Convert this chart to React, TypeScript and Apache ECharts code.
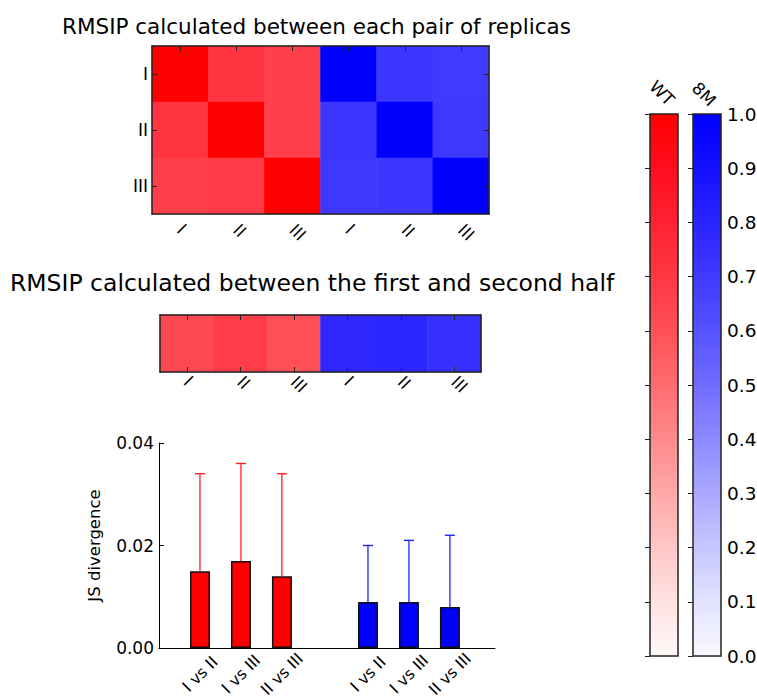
import React, { useEffect, useRef } from 'react';
import * as echarts from 'echarts';

// ---------- data ----------
const replicaLabels = ['I', 'II', 'III'];
const heatmapXLabels = ['I', 'II', 'III', 'I', 'II', 'III'];
const wtPairs = [
  [1.0, 0.72, 0.67],
  [0.72, 1.0, 0.67],
  [0.67, 0.69, 1.0],
];
const m8Pairs = [
  [1.0, 0.72, 0.7],
  [0.72, 1.0, 0.71],
  [0.71, 0.72, 1.0],
];
const wtHalves = [0.63, 0.68, 0.6];
const m8Halves = [0.78, 0.79, 0.74];

const barLabels = ['I vs II', 'I vs III', 'II vs III'];
const wtPositions = [1, 2, 3];
const m8Positions = [5.1, 6.1, 7.1];
const wtJS = [0.015, 0.017, 0.014];
const wtJSErr = [0.019, 0.019, 0.02];
const m8JS = [0.009, 0.009, 0.008];
const m8JSErr = [0.011, 0.012, 0.014];

const wtColorStops = ['#fff8f8', '#ffe2e2', '#ffc6c6', '#ffa8a8', '#ff8a8c', '#ff6c70', '#ff5058', '#ff3844', '#ff2232', '#ff0e1e', '#ff0000'];
const m8ColorStops = ['#f8f8ff', '#e2e2ff', '#c6c6ff', '#aaa8ff', '#8c8aff', '#706cff', '#5652ff', '#403aff', '#2a24ff', '#1410ff', '#0000ff'];

const FONT = 'DejaVu Sans';

export default function App() {
  const ref = useRef<HTMLDivElement>(null);

  useEffect(() => {
    if (!ref.current) return;
    const chart = echarts.init(ref.current, null, { renderer: 'svg' });

    const wtTop = wtPairs.flatMap((row, r) => row.map((v, c) => [c, r, v]));
    const m8Top = m8Pairs.flatMap((row, r) => row.map((v, c) => [c + 3, r, v]));
    const wtHalf = wtHalves.map((v, c) => [c, 0, v]);
    const m8Half = m8Halves.map((v, c) => [c + 3, 0, v]);

    const allPositions = [...wtPositions, ...m8Positions];
    const posLabel = (v: number) => {
      const i = allPositions.findIndex((p) => Math.abs(p - v) < 1e-6);
      return i < 0 ? '' : barLabels[i % 3];
    };

    const border = { show: true, lineStyle: { color: '#222', width: 1.5 } };
    const tickInside = { show: true, inside: true, alignWithLabel: true, length: 5, lineStyle: { color: '#222', width: 1 } };
    const labelStyle = { color: '#000', fontFamily: FONT };

    const errorRender = (color: string) => (params: any, api: any) => {
      const x = api.value(0);
      const v = api.value(1);
      const e = api.value(2);
      const base = api.coord([x, v]);
      const top = api.coord([x, v + e]);
      return {
        type: 'group',
        children: [
          { type: 'line', shape: { x1: base[0], y1: base[1], x2: top[0], y2: top[1] }, style: { stroke: color, lineWidth: 1.3 } },
          { type: 'line', shape: { x1: top[0] - 5, y1: top[1], x2: top[0] + 5, y2: top[1] }, style: { stroke: color, lineWidth: 1.4 } },
        ],
      };
    };

    const colorbarRender = (stops: string[]) => (params: any, api: any) => {
      const p0 = api.coord([0, 0]);
      const p1 = api.coord([1, 1]);
      return {
        type: 'rect',
        shape: { x: p0[0], y: p1[1], width: p1[0] - p0[0], height: p0[1] - p1[1] },
        style: {
          fill: new echarts.graphic.LinearGradient(0, 1, 0, 0, stops.map((c, i) => ({ offset: i / (stops.length - 1), color: c }))),
          stroke: '#222',
          lineWidth: 1.5,
        },
      };
    };

    const option: any = {
      animation: false,
      backgroundColor: '#fff',
      textStyle: { fontFamily: FONT },
      title: [
        {
          text: 'RMSIP calculated between each pair of replicas',
          left: 62, top: 15, padding: 0,
          textStyle: { fontSize: 21.5, fontWeight: 'normal', color: '#000', fontFamily: FONT },
        },
        {
          text: 'RMSIP calculated between the first and second half',
          left: 10, top: 271, padding: 0,
          textStyle: { fontSize: 23.5, fontWeight: 'normal', color: '#000', fontFamily: FONT },
        },
      ],
      visualMap: [
        { type: 'continuous', show: false, min: 0, max: 1, dimension: 2, seriesIndex: [0, 2], inRange: { color: wtColorStops } },
        { type: 'continuous', show: false, min: 0, max: 1, dimension: 2, seriesIndex: [1, 3], inRange: { color: m8ColorStops } },
      ],
      grid: [
        { left: 152, top: 46, width: 337, height: 168, outerBoundsMode: 'none' },
        { left: 160, top: 315, width: 321, height: 57, outerBoundsMode: 'none' },
        { left: 159, top: 443, width: 336, height: 205, outerBoundsMode: 'none' },
        { left: 650, top: 114, width: 28, height: 542, outerBoundsMode: 'none' },
        { left: 693, top: 114, width: 28, height: 542, outerBoundsMode: 'none' },
      ],
      xAxis: [
        {
          gridIndex: 0, type: 'category', data: heatmapXLabels, position: 'bottom', z: 10,
          axisLine: border, axisTick: { show: false },
          axisLabel: { ...labelStyle, fontSize: 17, rotate: -45, margin: 13, interval: 0 },
        },
        {
          gridIndex: 0, type: 'category', data: heatmapXLabels, position: 'top', z: 10,
          axisLine: border, axisTick: { ...tickInside, interval: 0 }, axisLabel: { show: false },
        },
        {
          gridIndex: 1, type: 'category', data: heatmapXLabels, position: 'bottom', z: 10,
          axisLine: border, axisTick: { ...tickInside, interval: 0 },
          axisLabel: { ...labelStyle, fontSize: 17, rotate: -45, margin: 7, interval: 0 },
        },
        {
          gridIndex: 1, type: 'category', data: heatmapXLabels, position: 'top', z: 10,
          axisLine: border, axisTick: { ...tickInside, interval: 0 }, axisLabel: { show: false },
        },
        {
          gridIndex: 2, type: 'value', min: 0, max: 8.2, z: 10,
          axisLine: { show: true, lineStyle: { color: '#000', width: 1 } },
          axisTick: { show: false }, splitLine: { show: false },
          axisLabel: {
            ...labelStyle, fontSize: 16, rotate: 45, align: 'center', verticalAlign: 'middle', margin: 26,
            customValues: allPositions, formatter: (v: number) => posLabel(v),
          },
        },
        { gridIndex: 3, type: 'value', min: 0, max: 1, show: false },
        { gridIndex: 4, type: 'value', min: 0, max: 1, show: false },
      ],
      yAxis: [
        {
          gridIndex: 0, type: 'category', data: replicaLabels, inverse: true, position: 'left', z: 10,
          axisLine: border, axisTick: tickInside,
          axisLabel: { ...labelStyle, fontSize: 17, margin: 4 },
        },
        {
          gridIndex: 0, type: 'category', data: replicaLabels, inverse: true, position: 'right', z: 10,
          axisLine: border, axisTick: tickInside, axisLabel: { show: false },
        },
        {
          gridIndex: 1, type: 'category', data: [''], position: 'left', z: 10,
          axisLine: border, axisTick: { show: false }, axisLabel: { show: false },
        },
        {
          gridIndex: 1, type: 'category', data: [''], position: 'right', z: 10,
          axisLine: border, axisTick: { show: false }, axisLabel: { show: false },
        },
        {
          gridIndex: 2, type: 'value', min: 0, max: 0.04, interval: 0.02, z: 10,
          axisLine: { show: true, lineStyle: { color: '#000', width: 1 } },
          axisTick: { show: true, inside: true, length: 5, lineStyle: { color: '#000' } },
          splitLine: { show: false },
          axisLabel: { ...labelStyle, fontSize: 17, margin: 5, formatter: (v: number) => v.toFixed(2) },
          name: 'JS divergence', nameLocation: 'middle', nameGap: 56,
          nameTextStyle: { ...labelStyle, fontSize: 16.5 },
        },
        {
          gridIndex: 3, type: 'value', min: 0, max: 1, interval: 0.1, position: 'right', z: 10,
          axisLine: { show: false }, splitLine: { show: false },
          axisTick: { show: true, inside: true, length: 5, lineStyle: { color: '#222' } },
          axisLabel: { show: false },
        },
        {
          gridIndex: 4, type: 'value', min: 0, max: 1, interval: 0.1, position: 'right', z: 10,
          axisLine: { show: false }, splitLine: { show: false },
          axisTick: { show: true, inside: true, length: 5, lineStyle: { color: '#222' } },
          axisLabel: { ...labelStyle, fontSize: 18.5, margin: 6, formatter: (v: number) => v.toFixed(1) },
        },
      ],
      series: [
        { type: 'heatmap', xAxisIndex: 0, yAxisIndex: 0, data: wtTop },
        { type: 'heatmap', xAxisIndex: 0, yAxisIndex: 0, data: m8Top },
        { type: 'heatmap', xAxisIndex: 2, yAxisIndex: 2, data: wtHalf },
        { type: 'heatmap', xAxisIndex: 2, yAxisIndex: 2, data: m8Half },
        {
          type: 'bar', xAxisIndex: 4, yAxisIndex: 4, barWidth: 20, barGap: '-100%',
          data: wtPositions.map((p, i) => [p, wtJS[i]]),
          itemStyle: { color: '#ff0000', borderColor: '#111', borderWidth: 1.5 },
        },
        {
          type: 'bar', xAxisIndex: 4, yAxisIndex: 4, barWidth: 20, barGap: '-100%',
          data: m8Positions.map((p, i) => [p, m8JS[i]]),
          itemStyle: { color: '#0000ff', borderColor: '#111', borderWidth: 1.5 },
        },
        {
          type: 'custom', xAxisIndex: 4, yAxisIndex: 4, z: 3,
          data: wtPositions.map((p, i) => [p, wtJS[i], wtJSErr[i]]),
          renderItem: errorRender('#ff2020'),
        },
        {
          type: 'custom', xAxisIndex: 4, yAxisIndex: 4, z: 3,
          data: m8Positions.map((p, i) => [p, m8JS[i], m8JSErr[i]]),
          renderItem: errorRender('#2020ff'),
        },
        { type: 'custom', xAxisIndex: 5, yAxisIndex: 5, data: [[0, 0]], renderItem: colorbarRender(wtColorStops) },
        { type: 'custom', xAxisIndex: 6, yAxisIndex: 6, data: [[0, 0]], renderItem: colorbarRender(m8ColorStops) },
      ],
      graphic: [
        {
          type: 'text', x: 662, y: 93, rotation: -Math.PI / 4,
          style: { text: 'WT', fontSize: 17, fontFamily: FONT, fill: '#000', align: 'center', verticalAlign: 'middle' },
        },
        {
          type: 'text', x: 704, y: 94, rotation: -Math.PI / 4,
          style: { text: '8M', fontSize: 17, fontFamily: FONT, fill: '#000', align: 'center', verticalAlign: 'middle' },
        },
      ],
    };

    chart.setOption(option);
    return () => chart.dispose();
  }, []);

  return <div ref={ref} style={{ position: 'absolute', left: 0, top: 0, width: 757, height: 699 }} />;
}
